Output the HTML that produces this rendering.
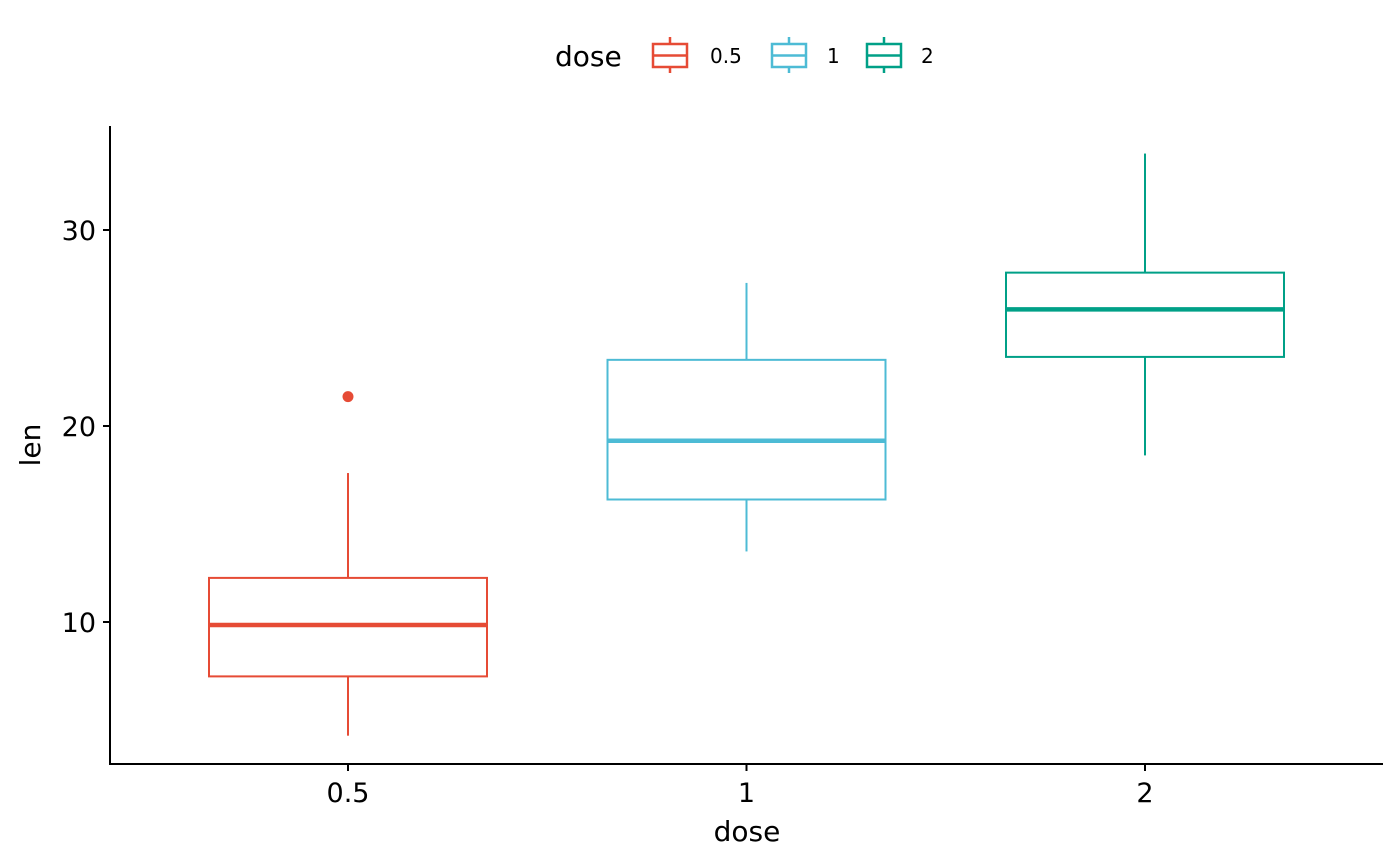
<!DOCTYPE html>
<html><head><meta charset="utf-8"><style>
body{margin:0;background:#fff}
svg{display:block;font-family:"DejaVu Sans","Liberation Sans",sans-serif}
</style></head><body>
<svg id="chart" width="1400" height="866">
<g id="plot"></g>
</svg>
<script>
const categories = ["0.5","1","2"];
const mins = [4.2, 13.6, 18.5];
const q1s = [7.225, 16.25, 23.525];
const medians = [9.85, 19.25, 25.95];
const q3s = [12.25, 23.375, 27.825];
const maxs = [17.6, 27.3, 33.9];
const outliers = [[21.5], [], []];
const yTicks = [10, 20, 30];
const colors = ["#E64B35","#4DBBD5","#00A087"];

const NS = "http://www.w3.org/2000/svg";
const svg = document.getElementById("chart");
function y(v){ return 622 - (v - 10) * 19.6; }
function x(i){ return 348 + i * 398.5; }
function mk(tag, attrs, parent){
  const e = document.createElementNS(NS, tag);
  for (const k in attrs) e.setAttribute(k, attrs[k]);
  (parent || svg).appendChild(e);
  return e;
}
let a = mk("line",{x1:110,y1:126,x2:110,y2:765,stroke:"#000","stroke-width":2});


a = mk("line",{x1:109,y1:764,x2:1383,y2:764,stroke:"#000","stroke-width":2});


yTicks.forEach(t=>{
  const l = mk("line",{x1:103,x2:110,y1:y(t),y2:y(t),stroke:"#000","stroke-width":2});
  
  
  const tx = mk("text",{x:96,y:y(t)+10,"text-anchor":"end","font-size":27,fill:"#000"});
  tx.textContent = t;
  
  
});
categories.forEach((c,i)=>{
  const cx = x(i), col = colors[i], hw = 139;
  const l = mk("line",{x1:cx,x2:cx,y1:764,y2:771,stroke:"#000","stroke-width":2});
  
  
  const tx = mk("text",{x:cx,y:802,"text-anchor":"middle","font-size":27,fill:"#000"});
  tx.textContent = c;
  
  
  const g = mk("g",{});
  
  
  mk("line",{x1:cx,x2:cx,y1:y(maxs[i]),y2:y(q3s[i]),stroke:col,"stroke-width":2},g);
  mk("line",{x1:cx,x2:cx,y1:y(q1s[i]),y2:y(mins[i]),stroke:col,"stroke-width":2},g);
  mk("rect",{x:cx-hw,y:y(q3s[i]),width:hw*2,height:y(q1s[i])-y(q3s[i]),fill:"#fff",stroke:col,"stroke-width":2},g);
  mk("line",{x1:cx-hw,x2:cx+hw,y1:y(medians[i]),y2:y(medians[i]),stroke:col,"stroke-width":4.5},g);
  outliers[i].forEach(o=>{
    const p = mk("circle",{cx:cx,cy:y(o),r:5.5,fill:col});
    
    
  });
});
let t = mk("text",{x:747,y:841,"text-anchor":"middle","font-size":28,fill:"#000"});
t.textContent = "dose";


t = mk("text",{x:0,y:0,"text-anchor":"middle","font-size":28,fill:"#000",transform:"translate(40,445) rotate(-90)"});
t.textContent = "len";


t = mk("text",{x:555,y:66,"font-size":28,fill:"#000"});
t.textContent = "dose";


const lx = [670, 789, 884], labx = [710, 827, 921];
categories.forEach((c,i)=>{
  const g = mk("g",{});
  
  
  const col = colors[i], cx = lx[i];
  mk("line",{x1:cx,x2:cx,y1:37,y2:73,stroke:col,"stroke-width":2.5},g);
  mk("rect",{x:cx-17,y:44,width:34,height:23,fill:"#fff",stroke:col,"stroke-width":2.5},g);
  mk("line",{x1:cx-17,x2:cx+17,y1:55.5,y2:55.5,stroke:col,"stroke-width":2.5},g);
  const tx = mk("text",{x:labx[i],y:63,"font-size":20,fill:"#000"},g);
  tx.textContent = c;
});
</script>
</body></html>
